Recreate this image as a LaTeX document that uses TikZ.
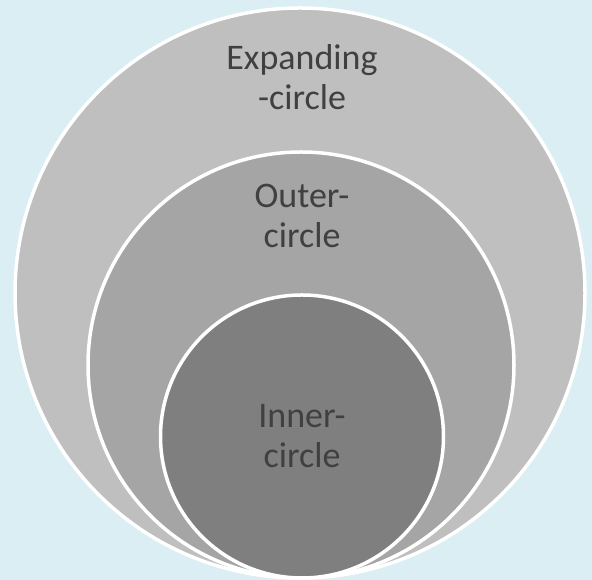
\documentclass[tikz,border=0pt]{standalone}
\usepackage{fontspec}
\setmainfont{Carlito}
\begin{document}
\begin{tikzpicture}[x=1pt,y=1pt]
  \definecolor{skybg}{HTML}{DAEEF3}
  \definecolor{ringA}{HTML}{BFBFBF}
  \definecolor{ringB}{HTML}{A5A5A5}
  \definecolor{ringC}{HTML}{7F7F7F}
  \definecolor{inktxt}{HTML}{404040}
  \tikzstyle{ring}=[circle, draw=white, line width=3.5pt, inner sep=0pt]
  \tikzstyle{lab}=[align=center, text=inktxt, inner sep=0pt, font=\fontsize{36}{40}\selectfont, anchor=base]

  % Fundo azul claro, do tamanho da figura original.
  \fill[skybg] (0,0) rectangle (592,580);
  \useasboundingbox (0,0) rectangle (592,580);

  % Tres circulos, todos tocando o mesmo ponto embaixo (y = 2).
  \node[ring, fill=ringA, minimum size=570pt] (expanding) at (300,287) {};
  \node[ring, fill=ringB, minimum size=426pt] (outer) at (301,215) {};
  \node[ring, fill=ringC, minimum size=283pt] (inner) at (302,143.5) {};

  % Rotulos (o base fica na linha de baixo do texto)
  \node[lab] (expandinglab) at (302,470) {Expanding\\-circle};
  \node[lab] (outerlab) at (302,332) {Outer-\\circle};
  \node[lab] (innerlab) at (302,112) {Inner-\\circle};
\end{tikzpicture}
\end{document}
